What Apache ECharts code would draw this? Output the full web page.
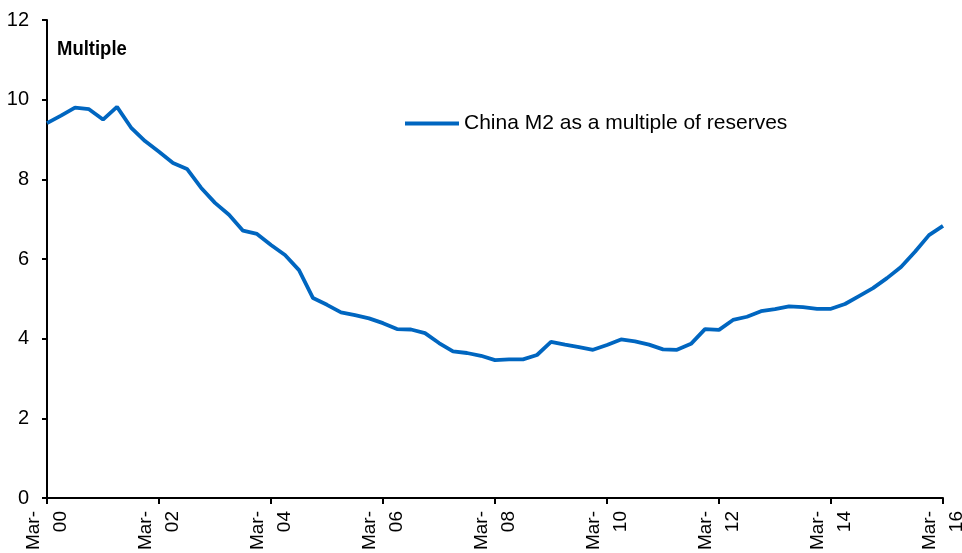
<!DOCTYPE html>
<html>
<head>
<meta charset="utf-8">
<script src="https://cdn.jsdelivr.net/npm/echarts@6/dist/echarts.min.js"></script>
<style>
html,body{margin:0;padding:0;background:#fff;}
#chart{width:962px;height:553px;}
</style>
</head>
<body>
<div id="chart"></div>
<script>
// Quarterly, Mar-00 .. Mar-16
const years = ['00','01','02','03','04','05','06','07','08','09','10','11','12','13','14','15','16'];
const quarters = ['Mar','Jun','Sep','Dec'];
const seriesName = 'China M2 as a multiple of reserves';
const m2Multiple = [
  9.41, 9.60, 9.80, 9.76, 9.50, 9.82, 9.30, 8.96,
  8.69, 8.41, 8.26, 7.79, 7.41, 7.11, 6.71, 6.63,
  6.35, 6.10, 5.72, 5.02, 4.85, 4.66, 4.59, 4.51,
  4.39, 4.24, 4.23, 4.14, 3.89, 3.68, 3.64, 3.57,
  3.46, 3.48, 3.48, 3.59, 3.92, 3.85, 3.79, 3.72,
  3.84, 3.98, 3.93, 3.85, 3.73, 3.72, 3.87, 4.24,
  4.22, 4.47, 4.55, 4.69, 4.74, 4.81, 4.79, 4.75,
  4.75, 4.87, 5.07, 5.27, 5.52, 5.80, 6.18, 6.60,
  6.83
];
const yTicks = {min: 0, max: 12, interval: 2};
const yAxisTitle = 'Multiple';

const categories = [];
for (let i = 0; i < m2Multiple.length; i++) {
  const y = years[Math.floor(i / 4)];
  const q = quarters[i % 4];
  categories.push(q + '-\n' + y);
}

const chart = echarts.init(document.getElementById('chart'));
const font = 'Liberation Sans, Arial, sans-serif';
chart.setOption({
  animation: false,
  backgroundColor: '#ffffff',
  textStyle: {fontFamily: font, color: '#000'},
  grid: {left: 47, right: 19, top: 20, bottom: 55, containLabel: false, outerBoundsMode: 'none'},
  graphic: [{
    type: 'text', x: 57, y: 39, scaleX: 0.88,
    style: {text: yAxisTitle, fontFamily: font, x: 0, y: 0,
            fontWeight: 'bold', fontSize: 21, fill: '#000', verticalAlign: 'top'}
  }],
  legend: {
    show: true, left: 400, top: 108,
    icon: 'rect', itemWidth: 54, itemHeight: 4, itemGap: 10,
    textStyle: {fontFamily: font, fontSize: 21, color: '#000', padding: [0,0,0,0]},
    data: [seriesName]
  },
  xAxis: {
    type: 'category', data: categories, boundaryGap: false,
    axisLine: {show: true, lineStyle: {color: '#000', width: 2}},
    axisTick: {show: true, interval: 7, length: 6, lineStyle: {color: '#000', width: 2}},
    axisLabel: {
      interval: 7, rotate: 90, margin: 13, fontSize: 19, lineHeight: 27,
      color: '#000', fontFamily: font
    },
    splitLine: {show: false}
  },
  yAxis: {
    type: 'value', min: yTicks.min, max: yTicks.max, interval: yTicks.interval,
    axisLine: {show: true, lineStyle: {color: '#000', width: 2}},
    axisTick: {show: true, inside: false, length: 5, lineStyle: {color: '#000', width: 2}},
    axisLabel: {margin: 18, fontSize: 20, color: '#000', fontFamily: font},
    splitLine: {show: false}
  },
  series: [{
    name: seriesName, type: 'line', data: m2Multiple,
    symbol: 'none', smooth: false,
    lineStyle: {color: '#0066c0', width: 3.8},
    itemStyle: {color: '#0066c0'}
  }]
});
</script>
</body>
</html>
